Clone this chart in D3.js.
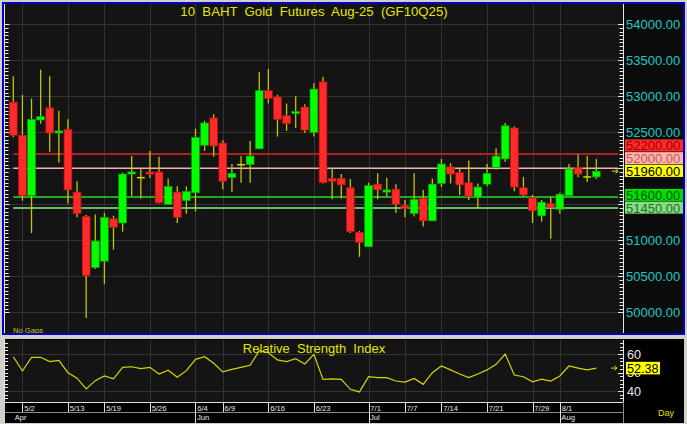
<!DOCTYPE html>
<html><head><meta charset="utf-8">
<script src="https://cdn.jsdelivr.net/npm/d3@7"></script>
<style>
html,body{margin:0;padding:0;background:#d4d0c8;overflow:hidden;}
svg{display:block;font-family:"Liberation Sans",Arial,sans-serif;}
</style></head><body>
<svg id="c" width="687" height="424"></svg>
<script>
// ---------- data ----------
const dates = ["4/30","5/2","5/6","5/7","5/8","5/9","5/13","5/14","5/15","5/16","5/19","5/20","5/21","5/22","5/23","5/26","5/27","5/28","5/29","5/30",
"6/4","6/5","6/6","6/9","6/10","6/11","6/12","6/13","6/16","6/17","6/18","6/19","6/20","6/23","6/24","6/25","6/26","6/27","6/30",
"7/1","7/2","7/3","7/4","7/7","7/8","7/9","7/11","7/14","7/15","7/16","7/17","7/18","7/21","7/22","7/23","7/24","7/25","7/29","7/30","7/31",
"8/1","8/4","8/5","8/6","8/7"];
const openP = [52920,52460,51620,52670,52840,52500,52540,51670,51330,50620,50710,51300,51240,51930,51870,51950,51950,51500,51670,51550,
51660,52320,52700,52350,51870,52050,52050,52270,53080,52990,52730,52760,52850,52500,53200,51860,51860,51730,51110,
50910,51780,51680,51710,51480,51370,51580,51270,51790,52020,51940,51800,51600,51780,52010,52130,52560,51730,51590,51340,51510,
51430,51620,52010,51880,51880];
const highP = [53280,53020,52970,53370,53280,52800,52680,51820,51350,51360,51380,51340,51940,52170,52000,52240,52160,51860,51750,51750,
52550,52660,52750,52390,52060,52170,52380,53340,53380,53020,52900,53000,52890,53180,53270,52000,51920,51850,51130,
51800,51930,51870,51780,51560,51930,51700,51860,52130,52070,52000,52110,51790,52060,52280,52630,52580,51880,51630,51560,51600,
51660,52060,52190,52170,52130];
const lowP = [52430,51550,51100,52620,52230,52080,51510,51320,49920,50600,50390,50870,51120,51620,51580,51870,51510,51500,51240,51370,
51400,52240,52160,51710,51670,51800,51800,52270,52900,52440,52520,52560,52490,52440,51790,51570,51580,51100,50770,
50910,51570,51610,51380,51320,51330,51190,51270,51740,51790,51630,51560,51450,51750,51980,52090,51680,51610,51240,51260,51020,
51370,51620,51880,51810,51850];
const closeP = [52460,51620,52680,52720,52490,52520,51700,51370,50510,50990,51320,51180,51920,51950,51870,51920,51520,51750,51320,51680,
52430,52630,52310,51820,51930,52050,52170,53080,52970,52680,52620,52790,52530,53100,51800,51820,51770,51120,50970,
51760,51700,51700,51500,51440,51570,51270,51780,52060,51920,51770,51610,51740,51930,52170,52590,51740,51630,51410,51530,51460,
51640,51990,51920,51880,51960];
const rsi = [58.5,50.8,58.2,58.2,55.9,56.6,49.9,46.9,41.1,45.6,48.1,46.6,52.8,53.1,52.1,52.8,49.2,51.2,47.4,51.0,
57.1,58.5,55.0,50.3,51.7,52.8,53.9,61.8,60.7,56.8,55.9,57.5,54.6,59.8,46.3,46.6,46.3,40.9,39.5,
47.7,47.2,47.2,45.4,44.8,46.8,43.6,49.9,53.5,51.4,49.2,47.2,49.2,51.4,54.4,60.0,48.6,47.7,45.0,46.4,45.4,
48.1,53.5,52.4,51.4,52.38];
const priceTicks = [50000,50500,51000,51500,52000,52500,53000,53500,54000];
const rsiTicks = [40,50,60];
const rsiGrid = [40,60];
const dateTicks = ["5/2","5/13","5/19","5/26","6/4","6/9","6/16","6/23","7/1","7/7","7/14","7/21","7/29","8/1"];
const monthTicks = ["4/30","6/4","7/1","8/1"];
const monthLabels = ["Apr","Jun","Jul","Aug"];
const levelValues = [52200,52000,51960,51600,51450];
const titleText = "10  BAHT  Gold  Futures  Aug-25  (GF10Q25)";
const rsiTitle = "Relative  Strength  Index";
const lastRsi = 52.38;

// ---------- styles ----------
const levelStyles = [
  {line:"#b42020", lw:2,   box:"#ff2a2a", txt:"#9a0000"},
  {line:"#f4b4ac", lw:1.5, box:"#ffb4ac", txt:"#c05a5a"},
  {line:null,      lw:0,   box:"#ffff00", txt:"#000000"},
  {line:"#22aa22", lw:2,   box:"#00dd00", txt:"#005a00"},
  {line:"#6cb86c", lw:2,   box:"#80e080", txt:"#2e6a2e"}
];

const svg = d3.select("#c");
svg.append("rect").attr("width",687).attr("height",424).attr("fill","#d4d0c8");

// ---------- main panel ----------
const P = {l:5, r:623, t:4, b:334};
svg.append("rect").attr("x",2).attr("y",2).attr("width",683).attr("height",333).attr("fill","#0c0c0c");
svg.append("rect").attr("x",P.l).attr("y",P.t).attr("width",P.r-P.l).attr("height",P.b-P.t).attr("fill","#141414");

const x = d3.scalePoint().domain(dates).range([13.3, 596.3]);
const y = d3.scaleLinear().domain([50000,54000]).range([312.3, 24.3]);

const gMain = svg.append("g");
// gridlines
gMain.selectAll(".hg").data(priceTicks).join("line")
  .attr("x1",P.l).attr("x2",P.r).attr("y1",d=>Math.round(y(d))+0.5).attr("y2",d=>Math.round(y(d))+0.5)
  .attr("stroke","#333").attr("stroke-width",1);
gMain.selectAll(".vg").data(dateTicks).join("line")
  .attr("x1",d=>Math.round(x(d))+0.5).attr("x2",d=>Math.round(x(d))+0.5).attr("y1",P.t).attr("y2",P.b)
  .attr("stroke","#333").attr("stroke-width",1);

// axes lines & ticks
const minorTicks = y.ticks(80);
gMain.append("line").attr("x1",4.5).attr("x2",4.5).attr("y1",P.t).attr("y2",P.b).attr("stroke","#e8e8e8");
gMain.selectAll(".lt").data(minorTicks).join("line")
  .attr("x1",4.5).attr("x2",d=>d%500===0?9.5:8.5)
  .attr("y1",d=>Math.round(y(d))+0.5).attr("y2",d=>Math.round(y(d))+0.5).attr("stroke","#e8e8e8");
gMain.append("line").attr("x1",623.5).attr("x2",623.5).attr("y1",P.t).attr("y2",P.b).attr("stroke","#e8e8e8");
gMain.selectAll(".rt").data(minorTicks).join("line")
  .attr("x1",d=>d%500===0?618:619.5).attr("x2",623.5)
  .attr("y1",d=>Math.round(y(d))+0.5).attr("y2",d=>Math.round(y(d))+0.5).attr("stroke","#e8e8e8");

// level box positions (stack upward to avoid overlap)
const boxH = 12.7;
const order = levelValues.map((v,i)=>i).sort((a,b)=>y(levelValues[b])-y(levelValues[a]));
const boxC = new Array(levelValues.length);
let prev = Infinity;
order.forEach(i=>{ let c = Math.min(y(levelValues[i]), prev-boxH); boxC[i]=c; prev=c; });

// price labels (skip those hidden under level boxes)
gMain.selectAll(".pl").data(priceTicks.filter(v=>!boxC.some(c=>Math.abs(c-y(v))<10))).join("text")
  .attr("x",626).attr("y",d=>y(d)+4.7).attr("fill","#1ec8c8").attr("font-size","13px").text(d=>d.toFixed(2));

// level lines
levelValues.forEach((v,i)=>{
  const s = levelStyles[i];
  if(s.line) gMain.append("line").attr("x1",x(dates[0])).attr("x2",618).attr("y1",y(v)).attr("y2",y(v))
    .attr("stroke",s.line).attr("stroke-width",s.lw);
});

// candles
const bw = 7.8;
const cg = gMain.append("g");
dates.forEach((d,i)=>{
  const cx = x(d), o=openP[i], c=closeP[i];
  cg.append("line").attr("x1",cx).attr("x2",cx).attr("y1",y(highP[i])).attr("y2",y(lowP[i]))
    .attr("stroke","#c4c400").attr("stroke-width",1.3);
  if(o===c){
    cg.append("line").attr("x1",cx-bw/2).attr("x2",cx+bw/2).attr("y1",y(o)).attr("y2",y(o))
      .attr("stroke","#d8d800").attr("stroke-width",1.5);
  } else {
    const up = c>o;
    const top = y(Math.max(o,c)), bot = y(Math.min(o,c));
    const h = Math.max(2.2, bot-top);
    cg.append("rect").attr("x",cx-bw/2).attr("y",top).attr("width",bw).attr("height",h)
      .attr("fill",up?"#00ff00":"#ff2a2a").attr("stroke",up?"#00a000":"#c01010").attr("stroke-width",0.7);
  }
});

// level boxes
levelValues.forEach((v,i)=>{
  const s = levelStyles[i];
  gMain.append("rect").attr("x",625).attr("y",boxC[i]-boxH/2).attr("width",58).attr("height",boxH-0.6).attr("fill",s.box);
  gMain.append("text").attr("x",626).attr("y",boxC[i]+4.6).attr("fill",s.txt).attr("font-size","13px").text(v.toFixed(2));
});

// last price marker arrow
function arrow(g, ax, ay){
  g.append("path").attr("d",`M${ax-5},${ay}H${ax+1}M${ax-1.5},${ay-2.2}L${ax+1},${ay}L${ax-1.5},${ay+2.2}`)
   .attr("stroke","#e0e000").attr("fill","none").attr("stroke-width",1);
}
arrow(gMain, 617, y(closeP[closeP.length-1]));

// title & note
gMain.append("text").attr("x",(P.l+P.r)/2).attr("y",16).attr("text-anchor","middle").attr("fill","#e6e600")
  .attr("font-size","13.2px").style("white-space","pre").text(titleText);
gMain.append("text").attr("x",13).attr("y",333).attr("fill","#c8c800").attr("font-size","7.6px")
  .style("white-space","pre").text("No Gaps");

// blue border
svg.append("rect").attr("x",3).attr("y",3).attr("width",681).attr("height",331)
  .attr("fill","none").attr("stroke","#0000c8").attr("stroke-width",2);

// ---------- RSI panel ----------
const R = {l:5, r:623, t:340, b:402};
svg.append("rect").attr("x",4.5).attr("y",338.5).attr("width",680).attr("height",85).attr("fill","#000")
  .attr("stroke","#cfcfcf").attr("stroke-width",1);
svg.append("rect").attr("x",R.l).attr("y",R.t).attr("width",R.r-R.l).attr("height",R.b-R.t).attr("fill","#141414");
const yR = d3.scaleLinear().domain([40,60]).range([391,354]);
const gR = svg.append("g");
gR.selectAll(".rg").data(rsiGrid).join("line")
  .attr("x1",R.l).attr("x2",R.r).attr("y1",d=>Math.round(yR(d))+0.5).attr("y2",d=>Math.round(yR(d))+0.5)
  .attr("stroke","#333");
gR.selectAll(".rvg").data(dateTicks).join("line")
  .attr("x1",d=>Math.round(x(d))+0.5).attr("x2",d=>Math.round(x(d))+0.5).attr("y1",R.t).attr("y2",R.b)
  .attr("stroke","#333");
const rMinor = d3.range(36,67,2);
gR.append("line").attr("x1",4.5).attr("x2",4.5).attr("y1",R.t).attr("y2",R.b).attr("stroke","#e8e8e8");
gR.selectAll(".rlt").data(rMinor.filter(v=>yR(v)>R.t&&yR(v)<R.b)).join("line")
  .attr("x1",4.5).attr("x2",8).attr("y1",d=>Math.round(yR(d))+0.5).attr("y2",d=>Math.round(yR(d))+0.5).attr("stroke","#e8e8e8");
gR.append("line").attr("x1",623.5).attr("x2",623.5).attr("y1",R.t).attr("y2",R.b).attr("stroke","#e8e8e8");
gR.selectAll(".rrt").data(rMinor.filter(v=>yR(v)>R.t&&yR(v)<R.b)).join("line")
  .attr("x1",d=>d%10===0?618:620).attr("x2",623.5).attr("y1",d=>Math.round(yR(d))+0.5).attr("y2",d=>Math.round(yR(d))+0.5).attr("stroke","#e8e8e8");

gR.append("path").datum(rsi).attr("fill","none").attr("stroke","#d4d400").attr("stroke-width",1.2)
  .attr("d", d3.line().x((d,i)=>x(dates[i])).y(d=>yR(d)));
gR.append("text").attr("x",(R.l+R.r)/2).attr("y",353).attr("text-anchor","middle").attr("fill","#e6e600")
  .attr("font-size","13px").style("white-space","pre").text(rsiTitle);

gR.selectAll(".rl").data(rsiTicks).join("text").attr("x",627).attr("y",d=>yR(d)+4.6)
  .attr("fill","#e8e8e8").attr("font-size","12.6px").text(d=>d);
gR.append("rect").attr("x",626).attr("y",yR(lastRsi)-6.3).attr("width",34).attr("height",12.6).attr("fill","#ffff00");
gR.append("text").attr("x",627).attr("y",yR(lastRsi)+4.6).attr("fill","#000").attr("font-size","12.6px").text(lastRsi.toFixed(2));
arrow(gR, 616, yR(lastRsi));

// ---------- date axis ----------
const gA = svg.append("g");
gA.append("rect").attr("x",5).attr("y",402).attr("width",618).attr("height",21).attr("fill","#000");
gA.append("line").attr("x1",5).attr("x2",623.5).attr("y1",402.5).attr("y2",402.5).attr("stroke","#e0e0e0");
gA.append("line").attr("x1",5).attr("x2",623.5).attr("y1",412.5).attr("y2",412.5).attr("stroke","#8a8a8a");
gA.append("line").attr("x1",623.5).attr("x2",623.5).attr("y1",402).attr("y2",423).attr("stroke","#8a8a8a");
gA.selectAll(".dt").data(dateTicks).join("line")
  .attr("x1",d=>Math.round(x(d))+0.5).attr("x2",d=>Math.round(x(d))+0.5).attr("y1",402).attr("y2",412)
  .attr("stroke","#e0e0e0");
gA.selectAll(".dl").data(dateTicks).join("text").attr("x",d=>x(d)+1.8).attr("y",410.5)
  .attr("fill","#e8e8e8").attr("font-size","7.6px").text(d=>d);
gA.selectAll(".mt").data(monthTicks.slice(1)).join("line")
  .attr("x1",d=>Math.round(x(d))+0.5).attr("x2",d=>Math.round(x(d))+0.5).attr("y1",412).attr("y2",423)
  .attr("stroke","#e0e0e0");
gA.selectAll(".ml").data(monthTicks).join("text").attr("x",d=>x(d)+1.5).attr("y",420)
  .attr("fill","#e8e8e8").attr("font-size","7.6px").text((d,i)=>monthLabels[i]);
gA.append("text").attr("x",658).attr("y",416).attr("fill","#e0e000").attr("font-size","9px").text("Day");
</script>
</body></html>
